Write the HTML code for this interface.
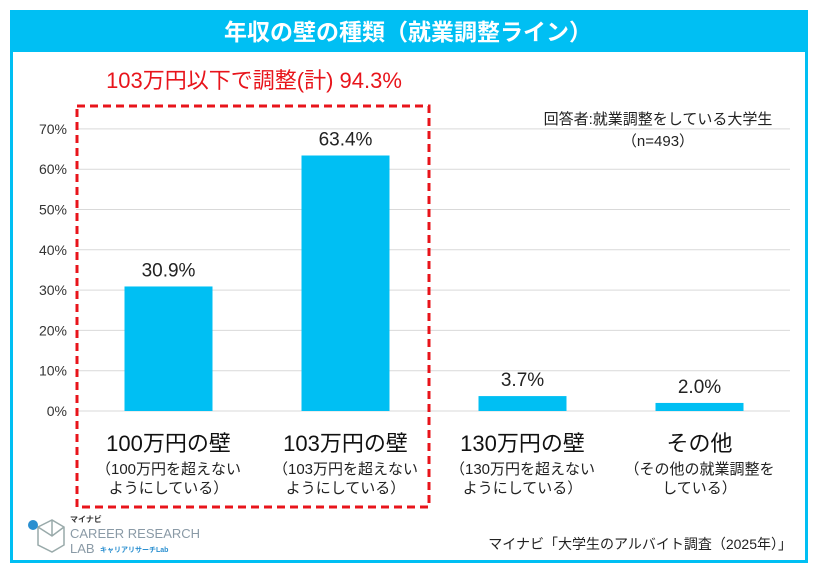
<!DOCTYPE html>
<html><head><meta charset="utf-8"><style>
body{margin:0;background:#fff;}
svg{display:block;font-family:"Liberation Sans","Noto Sans CJK JP",sans-serif;}
</style></head><body>
<svg width="817" height="571" viewBox="0 0 817 571">
<rect x="11.5" y="11.5" width="795" height="550" fill="#fff" stroke="#00BFF3" stroke-width="3"/>
<rect x="10" y="10" width="798" height="42" fill="#00BFF3"/>
<text x="408" y="40" text-anchor="middle" font-size="23" fill="#fff" font-weight="bold">年収の壁の種類（就業調整ライン）</text>
<text x="254" y="88" text-anchor="middle" font-size="22" fill="#E8141B">103万円以下で調整(計)  94.3%</text>
<text x="658" y="124" text-anchor="middle" font-size="15" fill="#222">回答者:就業調整をしている大学生</text>
<text x="658" y="146" text-anchor="middle" font-size="15" fill="#222">（n=493）</text>
<g id="grid"></g><g id="bars"></g>
<rect x="77" y="106" width="352" height="401" fill="none" stroke="#E8141B" stroke-width="3" stroke-dasharray="8,5"/>
<g>
<path d="M38 527 L52 520 L64 527 L64 545 L52 552 L38 545 Z M52 520 L52 536 M38 527 L52 536 L64 527" fill="none" stroke="#9aa" stroke-width="1.5"/>
<circle cx="33" cy="525" r="5" fill="#2a8fd0"/>
<text x="70" y="522" font-size="8" font-weight="bold" fill="#333">マイナビ</text>
<text x="70" y="538" font-size="13" fill="#8a9aa6">CAREER RESEARCH</text>
<text x="70" y="553" font-size="13" fill="#8a9aa6">LAB</text>
<text x="100" y="552" font-size="7" fill="#2a8fd0" font-weight="bold">キャリアリサーチLab</text>
</g>
<text x="792" y="549" text-anchor="end" font-size="14" fill="#222">マイナビ「大学生のアルバイト調査（2025年）」</text>
</svg>
<script>
const categories=["100万円の壁","103万円の壁","130万円の壁","その他"];
const subLine1=["（100万円を超えない","（103万円を超えない","（130万円を超えない","（その他の就業調整を"];
const subLine2=["ようにしている）","ようにしている）","ようにしている）","している）"];
const values=[30.9,63.4,3.7,2.0];
const ticks=[0,10,20,30,40,50,60,70];
const NS="http://www.w3.org/2000/svg";
const y0=411,pxPer=40.3/10,xStart=80,step=177,barW=88;
const yS=v=>y0-v*pxPer;
const xC=i=>xStart+step*(i+0.5);
function mk(t,a,p){const e=document.createElementNS(NS,t);for(const k in a)e.setAttribute(k,a[k]);p.appendChild(e);return e;}
const grid=document.getElementById('grid'),bars=document.getElementById('bars');
ticks.forEach(t=>{
 const l=mk('line',{x1:76,x2:790,y1:yS(t),y2:yS(t),stroke:'#d9d9d9','stroke-width':1},grid);
 
 
 const tx=mk('text',{x:67,y:yS(t)+5,'text-anchor':'end','font-size':14,fill:'#333'},grid);
 tx.textContent=t+'%';
 
 
});
values.forEach((v,i)=>{
 const r=mk('rect',{x:xC(i)-barW/2,y:yS(v),width:barW,height:y0-yS(v),fill:'#00BFF3'},bars);
 
 
 const lb=mk('text',{x:xC(i),y:yS(v)-10,'text-anchor':'middle','font-size':19,fill:'#222'},bars);
 lb.textContent=v.toFixed(1)+'%';
 
 
 const c=mk('text',{x:xC(i),y:451,'text-anchor':'middle','font-size':22,fill:'#111'},bars);
 c.textContent=categories[i];
 
 
 const s1=mk('text',{x:xC(i),y:474,'text-anchor':'middle','font-size':15,fill:'#222'},bars);
 s1.textContent=subLine1[i];
 
 
 const s2=mk('text',{x:xC(i),y:493,'text-anchor':'middle','font-size':15,fill:'#222'},bars);
 s2.textContent=subLine2[i];
 
 
});
</script>
</body></html>
